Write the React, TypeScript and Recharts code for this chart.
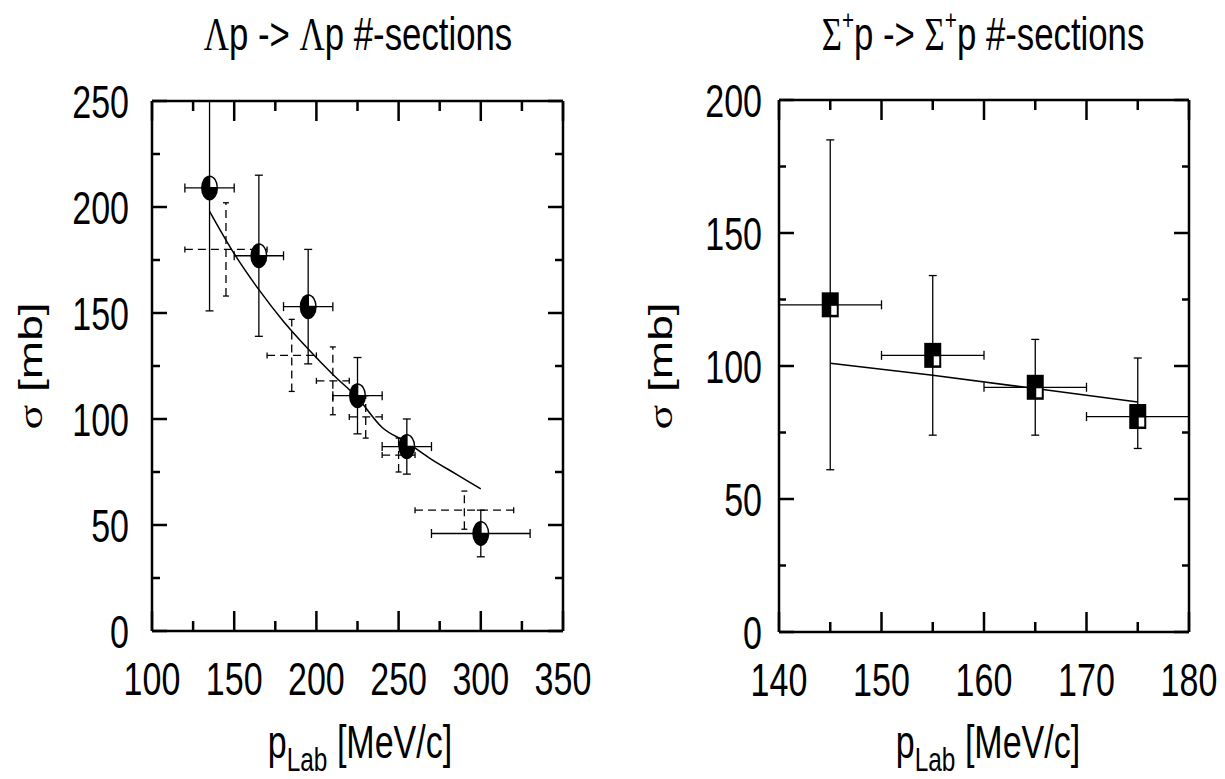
import { ComposedChart, Scatter, Line, XAxis, YAxis, ErrorBar } from 'recharts';

// Λp data (filled half-white circles); first upper error runs off the frame top
const lamP = [135, 165, 195, 225, 255, 300];
const lamSigma = [209, 177, 153, 111, 87, 46];
const lamSigmaErrLo = [58, 38, 27, 18, 13, 11];
const lamSigmaErrHi = [41, 38, 27, 18, 13, 11];
const lamPErr = [15, 15, 15, 15, 15, 30];

// Λp older data (dashed crosses)
const oldP = [145, 185, 210, 230, 250, 290];
const oldSigma = [180, 130, 118, 101, 83, 57];
const oldSigmaErr = [22, 17, 16, 10, 8, 9];
const oldPErr = [25, 15, 10, 10, 10, 30];

// Λp fit curve
const lamFitP = [135, 150, 165, 180, 195, 210, 225, 240, 255, 270, 285, 300];
const lamFitSigma = [198, 178, 161, 146, 133, 121, 110, 96, 89, 81, 74, 67];

// Σ+p data (squares)
const sigP = [145, 155, 165, 175];
const sigSigma = [123, 104, 92, 81];
const sigSigmaErrLo = [62, 30, 18, 12];
const sigSigmaErrHi = [62, 30, 18, 22];
const sigPErr = [5, 5, 5, 5];

// Σ+p fit line
const sigFitP = [145, 155, 165, 175];
const sigFitSigma = [101, 96.5, 91.5, 86.5];

// ticks
const lamXTicks = [100, 125, 150, 175, 200, 225, 250, 275, 300, 325, 350];
const lamYTicks = [0, 25, 50, 75, 100, 125, 150, 175, 200, 225, 250];
const sigXTicks = [140, 145, 150, 155, 160, 165, 170, 175, 180];
const sigYTicks = [0, 25, 50, 75, 100, 125, 150, 175, 200];

const lamData = lamP.map((x, i) => ({ x, y: lamSigma[i], ey: [lamSigmaErrLo[i], lamSigmaErrHi[i]], ex: lamPErr[i] }));
const oldData = oldP.map((x, i) => ({ x, y: oldSigma[i], ey: oldSigmaErr[i], ex: oldPErr[i] }));
const lamFit = lamFitP.map((x, i) => ({ x, y: lamFitSigma[i] }));
const sigData = sigP.map((x, i) => ({ x, y: sigSigma[i], ey: [sigSigmaErrLo[i], sigSigmaErrHi[i]], ex: sigPErr[i] }));
const sigFit = sigFitP.map((x, i) => ({ x, y: sigFitSigma[i] }));

const SX = 0.74;
const SANS = 'Liberation Sans, Arial, Helvetica, sans-serif';
const SERIF = 'Liberation Serif, Times New Roman, serif';
const FRAME = 2.5;

type Side = 'bottom' | 'top' | 'left' | 'right';

function makeTick(side: Side, majorStep: number, majorLen: number, minorLen: number, gap = 22) {
  return (props: any) => {
    const { x, y, payload } = props;
    const v = Number(payload.value);
    const major = Math.abs(v % majorStep) < 1e-9;
    const len = major ? majorLen : minorLen;
    let line;
    if (side === 'bottom') line = <line x1={x} y1={y} x2={x} y2={y - len} />;
    else if (side === 'top') line = <line x1={x} y1={y} x2={x} y2={y + len} />;
    else if (side === 'left') line = <line x1={x} y1={y} x2={x + len} y2={y} />;
    else line = <line x1={x} y1={y} x2={x - len} y2={y} />;
    let label = null;
    if (major && side === 'bottom') {
      label = (
        <text transform={`translate(${x},${y + 64}) scale(${SX},1)`} textAnchor="middle" fontSize={46} fontFamily={SANS} fill="#000">
          {v}
        </text>
      );
    } else if (major && side === 'left') {
      label = (
        <text transform={`translate(${x - gap},${y + 16.5}) scale(${SX},1)`} textAnchor="end" fontSize={46} fontFamily={SANS} fill="#000">
          {v}
        </text>
      );
    }
    return (
      <g>
        <g stroke="#000" strokeWidth={FRAME}>{line}</g>
        {label}
      </g>
    );
  };
}

function HalfCircle(props: any) {
  const { cx, cy } = props;
  if (cx == null || cy == null) return <g />;
  const rx = 8.5, ry = 12.5, wx = 7, wy = 11;
  return (
    <g>
      <ellipse cx={cx} cy={cy} rx={rx} ry={ry} fill="#000" />
      <path d={`M${cx + 0.8},${cy - 0.8} L${cx + 0.8},${cy - wy} A${wx},${wy} 0 0 1 ${cx + wx},${cy - 0.8} Z`} fill="#fff" />
    </g>
  );
}

function HalfSquare(props: any) {
  const { cx, cy } = props;
  if (cx == null || cy == null) return <g />;
  return (
    <g>
      <rect x={cx - 8.5} y={cy - 12.5} width={17} height={25} fill="#000" />
      <rect x={cx + 1} y={cy + 1} width={5.5} height={9} fill="#fff" />
    </g>
  );
}

const NoMark = () => <g />;

function Frame({ xDomain, yDomain, xTicks, yTicks, xMajor, yMajor, yMinorLen, yGap }: any) {
  return [
    <XAxis key="xb" xAxisId="b" type="number" dataKey="x" domain={xDomain} ticks={xTicks} interval={0} allowDataOverflow
      orientation="bottom" height={60} tickSize={0} tickMargin={0} tickLine={false}
      axisLine={{ stroke: '#000', strokeWidth: FRAME }} tick={makeTick('bottom', xMajor, 20, 10)} />,
    <XAxis key="xt" xAxisId="t" type="number" dataKey="x" domain={xDomain} ticks={xTicks} interval={0} allowDataOverflow
      orientation="top" height={10} tickSize={0} tickMargin={0} tickLine={false}
      axisLine={{ stroke: '#000', strokeWidth: FRAME }} tick={makeTick('top', xMajor, 20, 10)} />,
    <YAxis key="yl" yAxisId="l" type="number" dataKey="y" domain={yDomain} ticks={yTicks} interval={0} allowDataOverflow
      orientation="left" width={60} tickSize={0} tickMargin={0} tickLine={false}
      axisLine={{ stroke: '#000', strokeWidth: FRAME }} tick={makeTick('left', yMajor, 15, yMinorLen, yGap)} />,
    <YAxis key="yr" yAxisId="r" type="number" dataKey="y" domain={yDomain} ticks={yTicks} interval={0} allowDataOverflow
      orientation="right" width={10} tickSize={0} tickMargin={0} tickLine={false}
      axisLine={{ stroke: '#000', strokeWidth: FRAME }} tick={makeTick('right', yMajor, 15, yMinorLen)} />,
  ];
}

function LambdaChart() {
  return (
    <ComposedChart width={600} height={779} margin={{ top: 91, right: 27, bottom: 88, left: 92 }}>
      {Frame({ xDomain: [100, 350], yDomain: [0, 250], xTicks: lamXTicks, yTicks: lamYTicks, xMajor: 50, yMajor: 50, yMinorLen: 8, yGap: 23 })}
      <Scatter data={oldData} xAxisId="b" yAxisId="l" shape={NoMark} isAnimationActive={false}>
        <ErrorBar dataKey="ey" direction="y" width={3} stroke="#000" strokeWidth={1.3} strokeDasharray="8 5" isAnimationActive={false} />
        <ErrorBar dataKey="ex" direction="x" width={3} stroke="#000" strokeWidth={1.3} strokeDasharray="8 5" isAnimationActive={false} />
      </Scatter>
      <Line data={lamFit} xAxisId="b" yAxisId="l" dataKey="y" type="monotone" stroke="#000" strokeWidth={1.5} dot={false} activeDot={false} isAnimationActive={false} />
      <Scatter data={lamData} xAxisId="b" yAxisId="l" shape={HalfCircle} isAnimationActive={false}>
        <ErrorBar dataKey="ey" direction="y" width={4} stroke="#000" strokeWidth={1.3} isAnimationActive={false} />
        <ErrorBar dataKey="ex" direction="x" width={4.5} stroke="#000" strokeWidth={1.3} isAnimationActive={false} />
      </Scatter>
    </ComposedChart>
  );
}

function SigmaChart() {
  return (
    <ComposedChart width={605} height={779} margin={{ top: 90, right: 26, bottom: 87, left: 99 }}>
      {Frame({ xDomain: [140, 180], yDomain: [0, 200], xTicks: sigXTicks, yTicks: sigYTicks, xMajor: 10, yMajor: 50, yMinorLen: 7, yGap: 17 })}
      <Line data={sigFit} xAxisId="b" yAxisId="l" dataKey="y" type="linear" stroke="#000" strokeWidth={1.5} dot={false} activeDot={false} isAnimationActive={false} />
      <Scatter data={sigData} xAxisId="b" yAxisId="l" shape={HalfSquare} isAnimationActive={false}>
        <ErrorBar dataKey="ey" direction="y" width={4} stroke="#000" strokeWidth={1.3} isAnimationActive={false} />
        <ErrorBar dataKey="ex" direction="x" width={4.5} stroke="#000" strokeWidth={1.3} isAnimationActive={false} />
      </Scatter>
    </ComposedChart>
  );
}

function XLabel({ x }: { x: number }) {
  return (
    <text transform={`translate(${x},758) scale(${SX},1)`} textAnchor="middle" fontSize={46} fontFamily={SANS} fill="#000">
      p<tspan fontSize={33} dy={13}>Lab</tspan>
      <tspan dy={-13}>{' [MeV/c]'}</tspan>
    </text>
  );
}

function YLabel({ x }: { x: number }) {
  return (
    <text transform={`translate(${x},366) scale(${SX},1) rotate(-90)`} textAnchor="middle" fontSize={46} fontFamily={SANS} fill="#000">
      <tspan fontFamily={SERIF}>σ</tspan>
      {' [mb]'}
    </text>
  );
}

export default function App() {
  return (
    <div style={{ position: 'absolute', left: 0, top: 0, width: 1225, height: 779, background: '#fff' }}>
      <div style={{ position: 'absolute', left: 0, top: 0 }}>
        <LambdaChart />
      </div>
      <div style={{ position: 'absolute', left: 620, top: 0 }}>
        <SigmaChart />
      </div>
      <svg width={1225} height={779} style={{ position: 'absolute', left: 0, top: 0, pointerEvents: 'none' }}>
        <text transform={`translate(358,50) scale(${SX},1)`} textAnchor="middle" fontSize={47} fontFamily={SANS} fill="#000">
          <tspan fontFamily={SERIF}>Λ</tspan>
          {'p -> '}
          <tspan fontFamily={SERIF}>Λ</tspan>
          {'p #-sections'}
        </text>
        <text transform={`translate(983,50) scale(${SX},1)`} textAnchor="middle" fontSize={47} fontFamily={SANS} fill="#000">
          <tspan fontFamily={SERIF}>Σ</tspan>
          <tspan fontSize={28} dy={-21}>+</tspan>
          <tspan dy={21}>{'p -> '}</tspan>
          <tspan fontFamily={SERIF}>Σ</tspan>
          <tspan fontSize={28} dy={-21}>+</tspan>
          <tspan dy={21}>{'p #-sections'}</tspan>
        </text>
        <XLabel x={360} />
        <XLabel x={988} />
        <YLabel x={42} />
        <YLabel x={672} />
      </svg>
    </div>
  );
}
